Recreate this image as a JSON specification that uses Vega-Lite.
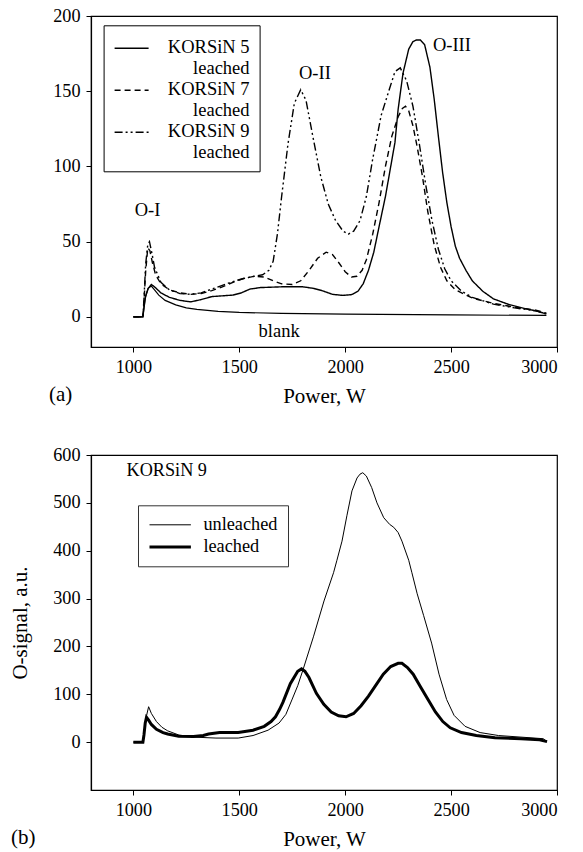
{
  "$schema": "https://vega.github.io/schema/vega-lite/v6.json",
  "padding": {"left": 9, "top": 5, "right": 5, "bottom": 0},
  "spacing": 37,
  "resolve": {"legend": {"strokeDash": "independent", "strokeWidth": "independent"}},
  "config": {
    "font": "Liberation Serif",
    "view": {"stroke": "black", "strokeWidth": 1.2},
    "line": {"color": "black"},
    "text": {"font": "Liberation Serif"},
    "style": {"guide-label": {"font": "Liberation Serif", "fill": "black"}, "guide-title": {"font": "Liberation Serif", "fill": "black"}},
    "axis": {
      "domainColor": "black", "tickColor": "black", "labelColor": "black", "titleColor": "black",
      "labelFont": "Liberation Serif", "titleFont": "Liberation Serif",
      "labelFontSize": 18.2, "titleFontSize": 21, "titleFontWeight": "normal",
      "grid": false, "tickSize": 5, "labelPadding": 6, "domainWidth": 1.2
    },
    "legend": {
      "labelFont": "Liberation Serif", "labelColor": "black", "symbolStrokeColor": "black"
    }
  },
  "datasets": {
    "a_samples": [
      {"power": 1000, "signal": 0, "sample": "KORSiN 5 leached"},
      {"power": 1045, "signal": 0, "sample": "KORSiN 5 leached"},
      {"power": 1050, "signal": 6, "sample": "KORSiN 5 leached"},
      {"power": 1058, "signal": 14, "sample": "KORSiN 5 leached"},
      {"power": 1070, "signal": 19, "sample": "KORSiN 5 leached"},
      {"power": 1085, "signal": 21.5, "sample": "KORSiN 5 leached"},
      {"power": 1100, "signal": 20, "sample": "KORSiN 5 leached"},
      {"power": 1130, "signal": 16, "sample": "KORSiN 5 leached"},
      {"power": 1170, "signal": 13, "sample": "KORSiN 5 leached"},
      {"power": 1220, "signal": 11, "sample": "KORSiN 5 leached"},
      {"power": 1270, "signal": 10, "sample": "KORSiN 5 leached"},
      {"power": 1320, "signal": 11.5, "sample": "KORSiN 5 leached"},
      {"power": 1370, "signal": 13.5, "sample": "KORSiN 5 leached"},
      {"power": 1420, "signal": 14, "sample": "KORSiN 5 leached"},
      {"power": 1470, "signal": 14.5, "sample": "KORSiN 5 leached"},
      {"power": 1510, "signal": 16, "sample": "KORSiN 5 leached"},
      {"power": 1550, "signal": 18.5, "sample": "KORSiN 5 leached"},
      {"power": 1600, "signal": 19.5, "sample": "KORSiN 5 leached"},
      {"power": 1700, "signal": 20, "sample": "KORSiN 5 leached"},
      {"power": 1800, "signal": 20, "sample": "KORSiN 5 leached"},
      {"power": 1850, "signal": 19, "sample": "KORSiN 5 leached"},
      {"power": 1890, "signal": 17.5, "sample": "KORSiN 5 leached"},
      {"power": 1940, "signal": 15, "sample": "KORSiN 5 leached"},
      {"power": 1990, "signal": 14.3, "sample": "KORSiN 5 leached"},
      {"power": 2030, "signal": 14.8, "sample": "KORSiN 5 leached"},
      {"power": 2060, "signal": 17, "sample": "KORSiN 5 leached"},
      {"power": 2085, "signal": 22, "sample": "KORSiN 5 leached"},
      {"power": 2110, "signal": 31, "sample": "KORSiN 5 leached"},
      {"power": 2135, "signal": 43, "sample": "KORSiN 5 leached"},
      {"power": 2160, "signal": 60, "sample": "KORSiN 5 leached"},
      {"power": 2190, "signal": 80, "sample": "KORSiN 5 leached"},
      {"power": 2215, "signal": 100, "sample": "KORSiN 5 leached"},
      {"power": 2235, "signal": 116, "sample": "KORSiN 5 leached"},
      {"power": 2250, "signal": 138, "sample": "KORSiN 5 leached"},
      {"power": 2273, "signal": 162, "sample": "KORSiN 5 leached"},
      {"power": 2300, "signal": 178, "sample": "KORSiN 5 leached"},
      {"power": 2320, "signal": 183, "sample": "KORSiN 5 leached"},
      {"power": 2336, "signal": 184, "sample": "KORSiN 5 leached"},
      {"power": 2355, "signal": 184, "sample": "KORSiN 5 leached"},
      {"power": 2375, "signal": 181, "sample": "KORSiN 5 leached"},
      {"power": 2400, "signal": 166, "sample": "KORSiN 5 leached"},
      {"power": 2420, "signal": 145, "sample": "KORSiN 5 leached"},
      {"power": 2440, "signal": 120, "sample": "KORSiN 5 leached"},
      {"power": 2460, "signal": 96, "sample": "KORSiN 5 leached"},
      {"power": 2480, "signal": 76, "sample": "KORSiN 5 leached"},
      {"power": 2500, "signal": 60, "sample": "KORSiN 5 leached"},
      {"power": 2520, "signal": 47, "sample": "KORSiN 5 leached"},
      {"power": 2540, "signal": 39, "sample": "KORSiN 5 leached"},
      {"power": 2570, "signal": 31, "sample": "KORSiN 5 leached"},
      {"power": 2600, "signal": 24, "sample": "KORSiN 5 leached"},
      {"power": 2650, "signal": 17, "sample": "KORSiN 5 leached"},
      {"power": 2700, "signal": 12, "sample": "KORSiN 5 leached"},
      {"power": 2770, "signal": 8.4, "sample": "KORSiN 5 leached"},
      {"power": 2850, "signal": 5.5, "sample": "KORSiN 5 leached"},
      {"power": 2900, "signal": 4, "sample": "KORSiN 5 leached"},
      {"power": 2950, "signal": 2, "sample": "KORSiN 5 leached"},

      {"power": 1000, "signal": 0, "sample": "KORSiN 7 leached"},
      {"power": 1045, "signal": 0, "sample": "KORSiN 7 leached"},
      {"power": 1050, "signal": 10, "sample": "KORSiN 7 leached"},
      {"power": 1058, "signal": 30, "sample": "KORSiN 7 leached"},
      {"power": 1068, "signal": 46, "sample": "KORSiN 7 leached"},
      {"power": 1078, "signal": 44, "sample": "KORSiN 7 leached"},
      {"power": 1090, "signal": 36, "sample": "KORSiN 7 leached"},
      {"power": 1105, "signal": 28, "sample": "KORSiN 7 leached"},
      {"power": 1130, "signal": 22, "sample": "KORSiN 7 leached"},
      {"power": 1170, "signal": 18, "sample": "KORSiN 7 leached"},
      {"power": 1220, "signal": 16, "sample": "KORSiN 7 leached"},
      {"power": 1270, "signal": 15, "sample": "KORSiN 7 leached"},
      {"power": 1320, "signal": 15.5, "sample": "KORSiN 7 leached"},
      {"power": 1370, "signal": 17.5, "sample": "KORSiN 7 leached"},
      {"power": 1420, "signal": 20, "sample": "KORSiN 7 leached"},
      {"power": 1470, "signal": 23, "sample": "KORSiN 7 leached"},
      {"power": 1520, "signal": 25.5, "sample": "KORSiN 7 leached"},
      {"power": 1570, "signal": 27, "sample": "KORSiN 7 leached"},
      {"power": 1620, "signal": 26.5, "sample": "KORSiN 7 leached"},
      {"power": 1660, "signal": 24, "sample": "KORSiN 7 leached"},
      {"power": 1700, "signal": 22, "sample": "KORSiN 7 leached"},
      {"power": 1750, "signal": 21.5, "sample": "KORSiN 7 leached"},
      {"power": 1790, "signal": 24, "sample": "KORSiN 7 leached"},
      {"power": 1830, "signal": 31, "sample": "KORSiN 7 leached"},
      {"power": 1870, "signal": 39, "sample": "KORSiN 7 leached"},
      {"power": 1910, "signal": 43, "sample": "KORSiN 7 leached"},
      {"power": 1940, "signal": 41.5, "sample": "KORSiN 7 leached"},
      {"power": 1970, "signal": 36, "sample": "KORSiN 7 leached"},
      {"power": 2000, "signal": 30, "sample": "KORSiN 7 leached"},
      {"power": 2030, "signal": 26.5, "sample": "KORSiN 7 leached"},
      {"power": 2055, "signal": 27, "sample": "KORSiN 7 leached"},
      {"power": 2080, "signal": 31, "sample": "KORSiN 7 leached"},
      {"power": 2100, "signal": 38, "sample": "KORSiN 7 leached"},
      {"power": 2130, "signal": 55, "sample": "KORSiN 7 leached"},
      {"power": 2160, "signal": 76, "sample": "KORSiN 7 leached"},
      {"power": 2190, "signal": 100, "sample": "KORSiN 7 leached"},
      {"power": 2220, "signal": 120, "sample": "KORSiN 7 leached"},
      {"power": 2250, "signal": 133, "sample": "KORSiN 7 leached"},
      {"power": 2270, "signal": 138.5, "sample": "KORSiN 7 leached"},
      {"power": 2285, "signal": 140, "sample": "KORSiN 7 leached"},
      {"power": 2300, "signal": 137, "sample": "KORSiN 7 leached"},
      {"power": 2320, "signal": 127, "sample": "KORSiN 7 leached"},
      {"power": 2340, "signal": 113, "sample": "KORSiN 7 leached"},
      {"power": 2364, "signal": 94, "sample": "KORSiN 7 leached"},
      {"power": 2390, "signal": 70, "sample": "KORSiN 7 leached"},
      {"power": 2420, "signal": 48, "sample": "KORSiN 7 leached"},
      {"power": 2450, "signal": 33, "sample": "KORSiN 7 leached"},
      {"power": 2480, "signal": 24, "sample": "KORSiN 7 leached"},
      {"power": 2520, "signal": 18, "sample": "KORSiN 7 leached"},
      {"power": 2600, "signal": 12.5, "sample": "KORSiN 7 leached"},
      {"power": 2700, "signal": 9, "sample": "KORSiN 7 leached"},
      {"power": 2800, "signal": 6.5, "sample": "KORSiN 7 leached"},
      {"power": 2900, "signal": 4.5, "sample": "KORSiN 7 leached"},
      {"power": 2950, "signal": 2.5, "sample": "KORSiN 7 leached"},

      {"power": 1000, "signal": 0, "sample": "KORSiN 9 leached"},
      {"power": 1045, "signal": 0, "sample": "KORSiN 9 leached"},
      {"power": 1050, "signal": 12, "sample": "KORSiN 9 leached"},
      {"power": 1058, "signal": 35, "sample": "KORSiN 9 leached"},
      {"power": 1068, "signal": 48, "sample": "KORSiN 9 leached"},
      {"power": 1076, "signal": 50, "sample": "KORSiN 9 leached"},
      {"power": 1088, "signal": 42, "sample": "KORSiN 9 leached"},
      {"power": 1100, "signal": 33, "sample": "KORSiN 9 leached"},
      {"power": 1130, "signal": 23, "sample": "KORSiN 9 leached"},
      {"power": 1170, "signal": 18, "sample": "KORSiN 9 leached"},
      {"power": 1220, "signal": 15.5, "sample": "KORSiN 9 leached"},
      {"power": 1270, "signal": 15, "sample": "KORSiN 9 leached"},
      {"power": 1320, "signal": 16, "sample": "KORSiN 9 leached"},
      {"power": 1370, "signal": 18.5, "sample": "KORSiN 9 leached"},
      {"power": 1420, "signal": 21, "sample": "KORSiN 9 leached"},
      {"power": 1470, "signal": 23.5, "sample": "KORSiN 9 leached"},
      {"power": 1520, "signal": 25.5, "sample": "KORSiN 9 leached"},
      {"power": 1570, "signal": 27, "sample": "KORSiN 9 leached"},
      {"power": 1610, "signal": 28, "sample": "KORSiN 9 leached"},
      {"power": 1640, "signal": 31, "sample": "KORSiN 9 leached"},
      {"power": 1660, "signal": 37, "sample": "KORSiN 9 leached"},
      {"power": 1680, "signal": 55, "sample": "KORSiN 9 leached"},
      {"power": 1700, "signal": 80, "sample": "KORSiN 9 leached"},
      {"power": 1730, "signal": 115, "sample": "KORSiN 9 leached"},
      {"power": 1760, "signal": 142, "sample": "KORSiN 9 leached"},
      {"power": 1790, "signal": 151, "sample": "KORSiN 9 leached"},
      {"power": 1815, "signal": 144, "sample": "KORSiN 9 leached"},
      {"power": 1850, "signal": 118, "sample": "KORSiN 9 leached"},
      {"power": 1885, "signal": 93, "sample": "KORSiN 9 leached"},
      {"power": 1920, "signal": 75, "sample": "KORSiN 9 leached"},
      {"power": 1955, "signal": 64, "sample": "KORSiN 9 leached"},
      {"power": 1990, "signal": 57, "sample": "KORSiN 9 leached"},
      {"power": 2015, "signal": 55, "sample": "KORSiN 9 leached"},
      {"power": 2040, "signal": 57, "sample": "KORSiN 9 leached"},
      {"power": 2070, "signal": 64, "sample": "KORSiN 9 leached"},
      {"power": 2100, "signal": 80, "sample": "KORSiN 9 leached"},
      {"power": 2130, "signal": 105, "sample": "KORSiN 9 leached"},
      {"power": 2170, "signal": 134, "sample": "KORSiN 9 leached"},
      {"power": 2210, "signal": 152, "sample": "KORSiN 9 leached"},
      {"power": 2235, "signal": 163, "sample": "KORSiN 9 leached"},
      {"power": 2260, "signal": 165.5, "sample": "KORSiN 9 leached"},
      {"power": 2290, "signal": 157, "sample": "KORSiN 9 leached"},
      {"power": 2320, "signal": 140, "sample": "KORSiN 9 leached"},
      {"power": 2350, "signal": 115, "sample": "KORSiN 9 leached"},
      {"power": 2380, "signal": 88, "sample": "KORSiN 9 leached"},
      {"power": 2410, "signal": 64, "sample": "KORSiN 9 leached"},
      {"power": 2440, "signal": 45, "sample": "KORSiN 9 leached"},
      {"power": 2470, "signal": 32, "sample": "KORSiN 9 leached"},
      {"power": 2500, "signal": 24, "sample": "KORSiN 9 leached"},
      {"power": 2550, "signal": 17, "sample": "KORSiN 9 leached"},
      {"power": 2600, "signal": 13, "sample": "KORSiN 9 leached"},
      {"power": 2700, "signal": 8.5, "sample": "KORSiN 9 leached"},
      {"power": 2800, "signal": 6, "sample": "KORSiN 9 leached"},
      {"power": 2900, "signal": 4, "sample": "KORSiN 9 leached"},
      {"power": 2950, "signal": 2, "sample": "KORSiN 9 leached"}
    ],
    "a_blank": [
      {"power": 1000, "signal": 0}, {"power": 1045, "signal": 0}, {"power": 1055, "signal": 12},
      {"power": 1070, "signal": 19}, {"power": 1085, "signal": 20.5}, {"power": 1100, "signal": 18},
      {"power": 1120, "signal": 14.5}, {"power": 1150, "signal": 11}, {"power": 1200, "signal": 8},
      {"power": 1250, "signal": 6}, {"power": 1300, "signal": 5}, {"power": 1400, "signal": 3.7},
      {"power": 1500, "signal": 3}, {"power": 1700, "signal": 2.3}, {"power": 2000, "signal": 1.8},
      {"power": 2500, "signal": 1.3}, {"power": 2950, "signal": 1}
    ],
    "a_labels": [
      {"power": 1067, "signal": 71, "label": "O-I"},
      {"power": 1857, "signal": 162, "label": "O-II"},
      {"power": 2504, "signal": 181, "label": "O-III"},
      {"power": 1688, "signal": -9.3, "label": "blank"}
    ],
    "b_curves": [
      {"power": 1000, "signal": 0, "state": "unleached"},
      {"power": 1045, "signal": 0, "state": "unleached"},
      {"power": 1052, "signal": 20, "state": "unleached"},
      {"power": 1062, "signal": 55, "state": "unleached"},
      {"power": 1072, "signal": 74, "state": "unleached"},
      {"power": 1085, "signal": 60, "state": "unleached"},
      {"power": 1109, "signal": 43, "state": "unleached"},
      {"power": 1135, "signal": 31, "state": "unleached"},
      {"power": 1162, "signal": 23.6, "state": "unleached"},
      {"power": 1214, "signal": 15, "state": "unleached"},
      {"power": 1284, "signal": 10.5, "state": "unleached"},
      {"power": 1390, "signal": 8.5, "state": "unleached"},
      {"power": 1495, "signal": 8.5, "state": "unleached"},
      {"power": 1565, "signal": 13.8, "state": "unleached"},
      {"power": 1636, "signal": 25, "state": "unleached"},
      {"power": 1688, "signal": 40, "state": "unleached"},
      {"power": 1720, "signal": 58, "state": "unleached"},
      {"power": 1750, "signal": 90, "state": "unleached"},
      {"power": 1776, "signal": 118, "state": "unleached"},
      {"power": 1800, "signal": 150, "state": "unleached"},
      {"power": 1850, "signal": 220, "state": "unleached"},
      {"power": 1900, "signal": 295, "state": "unleached"},
      {"power": 1945, "signal": 354, "state": "unleached"},
      {"power": 1961, "signal": 380, "state": "unleached"},
      {"power": 1985, "signal": 420, "state": "unleached"},
      {"power": 2008, "signal": 473, "state": "unleached"},
      {"power": 2032, "signal": 525, "state": "unleached"},
      {"power": 2056, "signal": 552, "state": "unleached"},
      {"power": 2070, "signal": 560, "state": "unleached"},
      {"power": 2083, "signal": 563, "state": "unleached"},
      {"power": 2100, "signal": 556, "state": "unleached"},
      {"power": 2125, "signal": 532, "state": "unleached"},
      {"power": 2150, "signal": 500, "state": "unleached"},
      {"power": 2182, "signal": 469, "state": "unleached"},
      {"power": 2210, "signal": 455, "state": "unleached"},
      {"power": 2229, "signal": 449, "state": "unleached"},
      {"power": 2250, "signal": 438, "state": "unleached"},
      {"power": 2268, "signal": 420, "state": "unleached"},
      {"power": 2300, "signal": 380, "state": "unleached"},
      {"power": 2315, "signal": 354, "state": "unleached"},
      {"power": 2340, "signal": 310, "state": "unleached"},
      {"power": 2370, "signal": 265, "state": "unleached"},
      {"power": 2408, "signal": 207, "state": "unleached"},
      {"power": 2443, "signal": 142, "state": "unleached"},
      {"power": 2479, "signal": 89, "state": "unleached"},
      {"power": 2514, "signal": 56, "state": "unleached"},
      {"power": 2566, "signal": 33, "state": "unleached"},
      {"power": 2637, "signal": 20, "state": "unleached"},
      {"power": 2724, "signal": 13.8, "state": "unleached"},
      {"power": 2830, "signal": 10.5, "state": "unleached"},
      {"power": 2935, "signal": 7.2, "state": "unleached"},
      {"power": 2953, "signal": 1, "state": "unleached"},

      {"power": 1000, "signal": 0, "state": "leached"},
      {"power": 1045, "signal": 0, "state": "leached"},
      {"power": 1050, "signal": 15, "state": "leached"},
      {"power": 1056, "signal": 40, "state": "leached"},
      {"power": 1062, "signal": 52, "state": "leached"},
      {"power": 1072, "signal": 46, "state": "leached"},
      {"power": 1085, "signal": 37, "state": "leached"},
      {"power": 1109, "signal": 27, "state": "leached"},
      {"power": 1140, "signal": 20, "state": "leached"},
      {"power": 1162, "signal": 17, "state": "leached"},
      {"power": 1214, "signal": 12.5, "state": "leached"},
      {"power": 1284, "signal": 11.8, "state": "leached"},
      {"power": 1330, "signal": 14, "state": "leached"},
      {"power": 1355, "signal": 17, "state": "leached"},
      {"power": 1407, "signal": 20, "state": "leached"},
      {"power": 1495, "signal": 20, "state": "leached"},
      {"power": 1565, "signal": 25, "state": "leached"},
      {"power": 1618, "signal": 33, "state": "leached"},
      {"power": 1650, "signal": 43, "state": "leached"},
      {"power": 1671, "signal": 53, "state": "leached"},
      {"power": 1690, "signal": 68, "state": "leached"},
      {"power": 1706, "signal": 83, "state": "leached"},
      {"power": 1741, "signal": 122, "state": "leached"},
      {"power": 1776, "signal": 148, "state": "leached"},
      {"power": 1794, "signal": 153, "state": "leached"},
      {"power": 1810, "signal": 148, "state": "leached"},
      {"power": 1829, "signal": 135, "state": "leached"},
      {"power": 1864, "signal": 102, "state": "leached"},
      {"power": 1899, "signal": 79, "state": "leached"},
      {"power": 1934, "signal": 63, "state": "leached"},
      {"power": 1969, "signal": 55, "state": "leached"},
      {"power": 2004, "signal": 53, "state": "leached"},
      {"power": 2040, "signal": 60, "state": "leached"},
      {"power": 2075, "signal": 76, "state": "leached"},
      {"power": 2110, "signal": 96, "state": "leached"},
      {"power": 2145, "signal": 119, "state": "leached"},
      {"power": 2180, "signal": 142, "state": "leached"},
      {"power": 2215, "signal": 158, "state": "leached"},
      {"power": 2250, "signal": 164.6, "state": "leached"},
      {"power": 2268, "signal": 164.6, "state": "leached"},
      {"power": 2294, "signal": 156, "state": "leached"},
      {"power": 2321, "signal": 142, "state": "leached"},
      {"power": 2356, "signal": 115, "state": "leached"},
      {"power": 2391, "signal": 89, "state": "leached"},
      {"power": 2426, "signal": 63, "state": "leached"},
      {"power": 2461, "signal": 43, "state": "leached"},
      {"power": 2496, "signal": 30, "state": "leached"},
      {"power": 2549, "signal": 20, "state": "leached"},
      {"power": 2619, "signal": 13.8, "state": "leached"},
      {"power": 2707, "signal": 9.2, "state": "leached"},
      {"power": 2830, "signal": 7.2, "state": "leached"},
      {"power": 2918, "signal": 5, "state": "leached"},
      {"power": 2953, "signal": 1, "state": "leached"}
    ],
    "b_labels": [
      {"power": 968, "signal": 566, "label": "KORSiN 9"}
    ]
  },
  "vconcat": [
    {
      "width": 466,
      "height": 331,
      "title": {"text": "(a)", "orient": "bottom", "anchor": "start", "frame": "group", "dx": -42, "dy": -22, "offset": 0, "fontSize": 21, "fontWeight": "normal", "font": "Liberation Serif", "color": "black"},
      "layer": [
        {
          "data": {"name": "a_samples"},
          "mark": {"type": "line", "strokeWidth": 1.4, "color": "black"},
          "encoding": {
            "x": {"field": "power", "type": "quantitative", "scale": {"domain": [800, 3000]}, "axis": {"values": [1000, 1500, 2000, 2500, 3000], "format": "d", "labelFont": "Liberation Serif", "labelFontSize": 18.2, "title": "Power, W", "titlePadding": 10}},
            "y": {"field": "signal", "type": "quantitative", "scale": {"domain": [-20, 200]}, "axis": {"values": [0, 50, 100, 150, 200], "format": "d", "labelFont": "Liberation Serif", "labelFontSize": 18.2, "title": null}},
            "strokeDash": {
              "field": "sample", "type": "nominal",
              "scale": {"domain": ["KORSiN 5 leached", "KORSiN 7 leached", "KORSiN 9 leached"], "range": [[1, 0], [6, 4], [8, 3, 2, 3, 2, 3]]},
              "legend": {
                "title": null, "orient": "none", "legendX": 12.6, "legendY": 9.3,
                "strokeColor": "black", "padding": 10, "labelFont": "Liberation Serif", "labelFontSize": 18.5,
                "labelAlign": "right", "labelOffset": 100,
                "symbolSize": 1156, "symbolStrokeWidth": 1.5, "symbolType": "M-1,-0.3L1,-0.3", "rowPadding": 0,
                "labelBaseline": "alphabetic",
                "labelExpr": "[replace(datum.label, ' leached', '') + '\u00a0\u00a0', 'leached\u00a0\u00a0']"
              }
            },
            "detail": {"field": "sample"}
          }
        },
        {
          "data": {"name": "a_blank"},
          "mark": {"type": "line", "strokeWidth": 1.2, "color": "black"},
          "encoding": {
            "x": {"field": "power", "type": "quantitative"},
            "y": {"field": "signal", "type": "quantitative"}
          }
        },
        {
          "data": {"name": "a_labels"},
          "mark": {"type": "text", "fontSize": 18.5, "font": "Liberation Serif", "color": "black", "align": "center", "baseline": "middle"},
          "encoding": {
            "x": {"field": "power", "type": "quantitative"},
            "y": {"field": "signal", "type": "quantitative"},
            "text": {"field": "label"}
          }
        }
      ]
    },
    {
      "width": 466,
      "height": 335,
      "title": {"text": "(b)", "orient": "bottom", "anchor": "start", "frame": "group", "dx": -80, "dy": -22, "offset": 0, "fontSize": 21, "fontWeight": "normal", "font": "Liberation Serif", "color": "black"},
      "layer": [
        {
          "data": {"name": "b_curves"},
          "mark": {"type": "line", "color": "black"},
          "encoding": {
            "x": {"field": "power", "type": "quantitative", "scale": {"domain": [800, 3000]}, "axis": {"values": [1000, 1500, 2000, 2500, 3000], "format": "d", "labelFont": "Liberation Serif", "labelFontSize": 18.2, "title": "Power, W", "titlePadding": 10}},
            "y": {"field": "signal", "type": "quantitative", "scale": {"domain": [-60, 600]}, "axis": {"values": [0, 100, 200, 300, 400, 500, 600], "format": "d", "labelFont": "Liberation Serif", "labelFontSize": 18.2, "title": "O-signal, a.u.", "titlePadding": 22}},
            "strokeWidth": {
              "field": "state", "type": "nominal",
              "scale": {"domain": ["unleached", "leached"], "range": [1, 3]},
              "legend": {
                "title": null, "orient": "none", "legendX": 47, "legendY": 50.3,
                "strokeColor": "#333", "padding": 10, "labelFont": "Liberation Serif", "labelFontSize": 18.3, "labelOffset": 34.4,
                "symbolSize": 324, "symbolType": "M-1,0L3.6,0", "rowPadding": 3.3,
                "labelExpr": "datum.label + '\u00a0\u00a0\u00a0\u00a0'"
              }
            }
          }
        },
        {
          "data": {"name": "b_labels"},
          "mark": {"type": "text", "fontSize": 18.2, "font": "Liberation Serif", "color": "black", "align": "left", "baseline": "middle"},
          "encoding": {
            "x": {"field": "power", "type": "quantitative"},
            "y": {"field": "signal", "type": "quantitative"},
            "text": {"field": "label"}
          }
        }
      ]
    }
  ]
}
